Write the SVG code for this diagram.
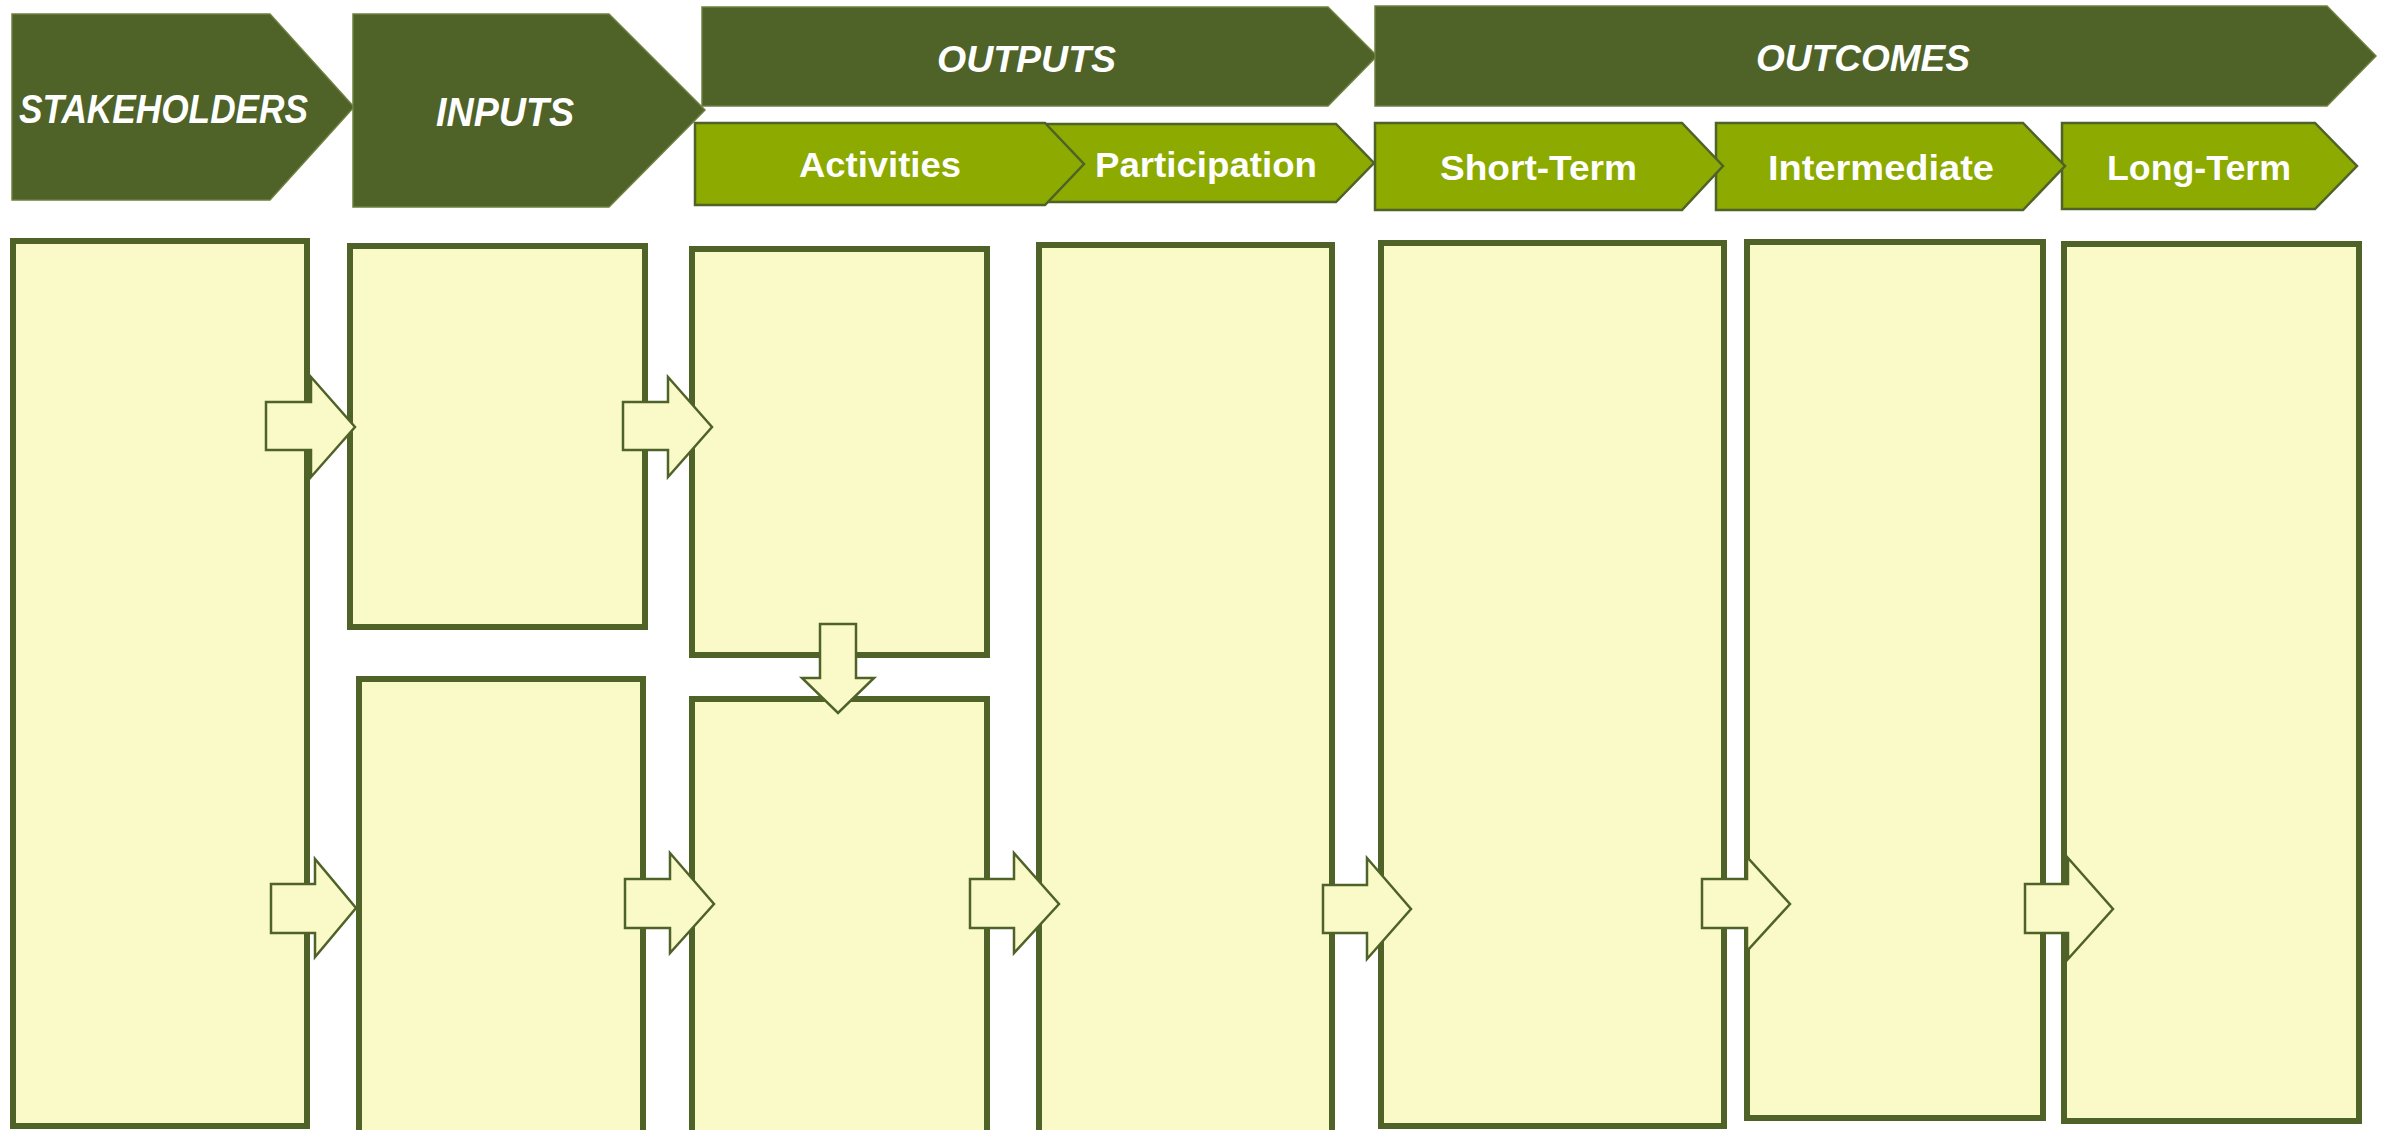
<svg xmlns="http://www.w3.org/2000/svg" width="2395" height="1130" viewBox="0 0 2395 1130">
<style>
.hdr{fill:#4F6228;stroke:#6E8040;stroke-width:1.5}
.sub{fill:#8CAA00;stroke:#4F6228;stroke-width:2.5}
.box{fill:#FAFAC8;stroke:#4F6228;stroke-width:6}
.arr{fill:#FAFAC8;stroke:#4F6228;stroke-width:2.5;stroke-linejoin:miter}
.t{font-family:"Liberation Sans",Arial,sans-serif;font-weight:bold;fill:#FFFFFF;text-anchor:middle}
.ti{font-style:italic;font-size:41px}
.tm{font-style:italic;font-size:37px}
.ts{font-size:35px}
</style>
<rect width="2395" height="1130" fill="#FFFFFF"/>
<g id="header-stakeholders">
<polygon class="hdr" points="12,14 270,14 354,107 270,200 12,200"/>
<text class="t ti" x="163.5" y="123" textLength="289" lengthAdjust="spacingAndGlyphs">STAKEHOLDERS</text>
</g>
<g id="header-inputs">
<polygon class="hdr" points="353,14 609,14 705,110 609,207 353,207"/>
<text class="t ti" x="505" y="126" textLength="138" lengthAdjust="spacingAndGlyphs">INPUTS</text>
</g>
<g id="header-outputs">
<polygon class="hdr" points="702,7 1328,7 1377,56 1328,106 702,106"/>
<text class="t tm" x="1026.5" y="72" textLength="179" lengthAdjust="spacingAndGlyphs">OUTPUTS</text>
</g>
<g id="header-outcomes">
<polygon class="hdr" points="1375,6 2327,6 2376,56 2327,106 1375,106"/>
<text class="t tm" x="1863" y="71" textLength="214" lengthAdjust="spacingAndGlyphs">OUTCOMES</text>
</g>
<g id="header-participation">
<polygon class="sub" points="1045,124 1336,124 1374,163 1336,202 1045,202"/>
<text class="t ts" x="1206" y="177" textLength="222" lengthAdjust="spacingAndGlyphs">Participation</text>
</g>
<g id="header-activities">
<polygon class="sub" points="695,123 1045,123 1084,164 1045,205 695,205"/>
<text class="t ts" x="880" y="177" textLength="162" lengthAdjust="spacingAndGlyphs">Activities</text>
</g>
<g id="header-long-term">
<polygon class="sub" points="2062,123 2315,123 2357,166 2315,209 2062,209"/>
<text class="t ts" x="2199" y="180" textLength="184" lengthAdjust="spacingAndGlyphs">Long-Term</text>
</g>
<g id="header-intermediate">
<polygon class="sub" points="1716,123 2023,123 2065,166 2023,210 1716,210"/>
<text class="t ts" x="1881" y="180" textLength="226" lengthAdjust="spacingAndGlyphs">Intermediate</text>
</g>
<g id="header-short-term">
<polygon class="sub" points="1375,123 1682,123 1723,166 1682,210 1375,210"/>
<text class="t ts" x="1538.5" y="180" textLength="197" lengthAdjust="spacingAndGlyphs">Short-Term</text>
</g>
<g id="box-stakeholders"><rect class="box" x="13" y="241" width="294" height="885"/></g>
<g id="box-inputs-top"><rect class="box" x="350" y="246" width="295" height="381"/></g>
<g id="box-inputs-bottom"><rect class="box" x="359" y="679" width="284" height="470"/></g>
<g id="box-activities-top"><rect class="box" x="692" y="249" width="295" height="406"/></g>
<g id="box-activities-bottom"><rect class="box" x="692" y="699" width="295" height="450"/></g>
<g id="box-participation"><rect class="box" x="1039" y="245" width="293" height="905"/></g>
<g id="box-short-term"><rect class="box" x="1381" y="243" width="343" height="883"/></g>
<g id="box-intermediate"><rect class="box" x="1747" y="242" width="296" height="876"/></g>
<g id="box-long-term"><rect class="box" x="2064" y="244" width="295" height="877"/></g>
<g id="connectors">
<path class="arr" d="M266,402 H311 V377 L355,427 L311,477 V450 H266 Z"/>
<path class="arr" d="M623,402 H668 V377 L712,427 L668,477 V450 H623 Z"/>
<path class="arr" d="M271,884 H315 V859 L356,908 L315,957 V933 H271 Z"/>
<path class="arr" d="M625,879 H670 V853 L714,904 L670,953 V928 H625 Z"/>
<path class="arr" d="M970,879 H1014 V853 L1059,904 L1014,953 V928 H970 Z"/>
<path class="arr" d="M1323,885 H1367 V858 L1411,909 L1367,959 V933 H1323 Z"/>
<path class="arr" d="M1702,879 H1747 V857 L1790,904 L1747,951 V928 H1702 Z"/>
<path class="arr" d="M2025,884 H2068 V858 L2113,909 L2068,959 V933 H2025 Z"/>
<path class="arr" d="M820,624 H856 V678 H874 L838,713 L802,678 H820 Z"/>
</g>
</svg>
